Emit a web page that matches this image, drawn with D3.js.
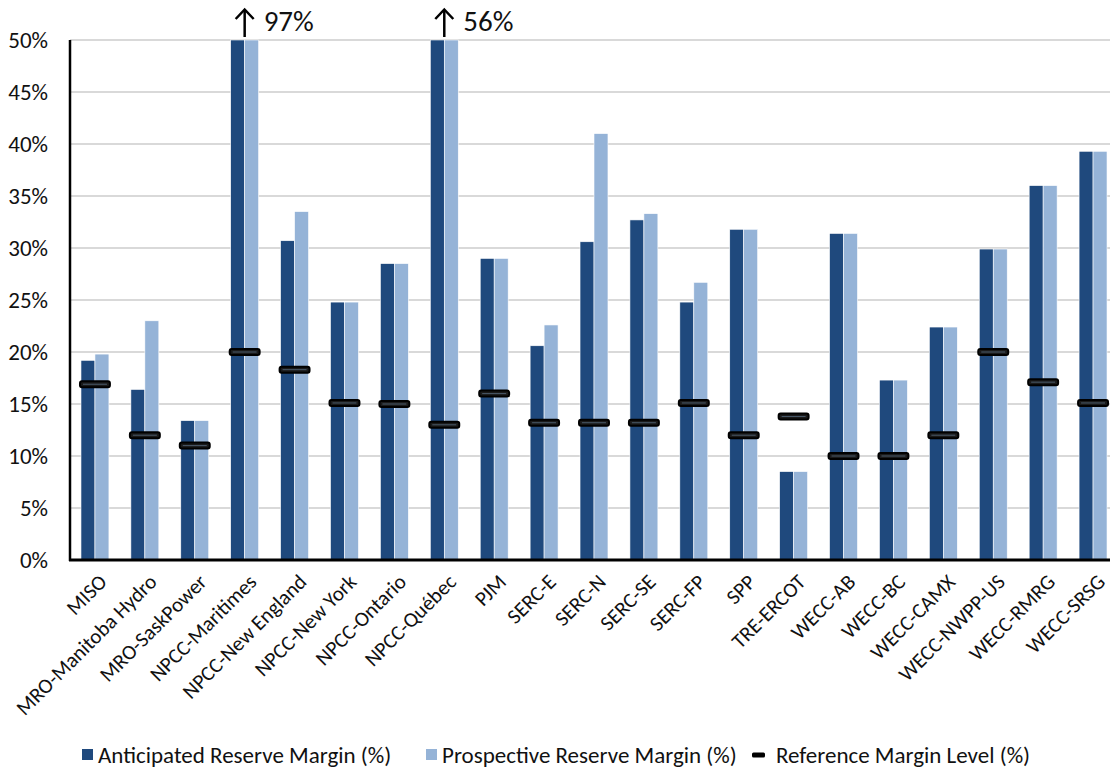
<!DOCTYPE html>
<html>
<head>
<meta charset="utf-8">
<script src="https://cdn.jsdelivr.net/npm/d3@7"></script>
<style>
  body { margin: 0; background: #fff; }
  svg { display: block; font-family: Carlito, Calibri, Lato, sans-serif; }
</style>
</head>
<body>
<div class="container"></div>
<script>
// assessment areas, left to right
const regions = [
    "MISO", "MRO-Manitoba Hydro", "MRO-SaskPower", "NPCC-Maritimes", "NPCC-New England",
    "NPCC-New York", "NPCC-Ontario", "NPCC-Québec", "PJM", "SERC-E", "SERC-N", "SERC-SE",
    "SERC-FP", "SPP", "TRE-ERCOT", "WECC-AB", "WECC-BC", "WECC-CAMX", "WECC-NWPP-US",
    "WECC-RMRG", "WECC-SRSG",
];
const anticipated = [19.2, 16.4, 13.4, 97, 30.7, 24.8, 28.5, 56, 29.0, 20.6, 30.6, 32.7,
    24.8, 31.8, 8.5, 31.4, 17.3, 22.4, 29.9, 36.0, 39.3];
const prospective = [19.8, 23.0, 13.4, 97, 33.5, 24.8, 28.5, 56, 29.0, 22.6, 41.0, 33.3,
    26.7, 31.8, 8.5, 31.4, 17.3, 22.4, 29.9, 36.0, 39.3];
const reference = [16.9, 12.0, 11.0, 20.0, 18.3, 15.1, 15.0, 13.0, 16.0, 13.2, 13.2, 13.2,
    15.1, 12.0, 13.8, 10.0, 10.0, 12.0, 20.0, 17.1, 15.1];
const yTicks = [0, 5, 10, 15, 20, 25, 30, 35, 40, 45, 50];
const seriesNames = ["Anticipated Reserve Margin (%)", "Prospective Reserve Margin (%)", "Reference Margin Level (%)"];
const yMax = 50;

const W = 1110, H = 770;
const margin = { left: 70, right: 1118, top: 40, bottom: 560 };
const darkBlue = "#1f497d", lightBlue = "#95b3d7";

const svg = d3.select(".container").append("svg")
    .attr("width", W).attr("height", H);

const x = d3.scaleBand().domain(regions).range([margin.left, margin.right])
    .paddingInner(0.44).paddingOuter(0.22);
const xs = d3.scaleBand().domain([0, 1]).range([0, x.bandwidth()]);
const y = d3.scaleLinear().domain([0, yMax]).range([margin.bottom, margin.top]);

// gridlines
svg.append("g").selectAll("line").data(yTicks.slice(1)).join("line")
    .attr("x1", margin.left).attr("x2", W)
    .attr("y1", (d) => y(d)).attr("y2", (d) => y(d))
    .attr("stroke", "#d9d9d9").attr("stroke-width", 2);

// y tick labels
svg.append("g").selectAll("text").data(yTicks).join("text")
    .attr("x", 48).attr("y", (d) => y(d))
    .attr("dy", "0.35em").attr("text-anchor", "end")
    .attr("font-size", 23).attr("fill", "#111")
    .text((d) => d + "%");

// bars
const groups = svg.append("g").selectAll("g").data(regions).join("g")
    .attr("transform", (d) => `translate(${x(d)},0)`);

[anticipated, prospective].forEach((vals, k) => {
    groups.append("rect")
        .attr("x", xs(k)).attr("width", xs.bandwidth())
        .attr("y", (d, i) => y(Math.min(vals[i], yMax)))
        .attr("height", (d, i) => y(0) - y(Math.min(vals[i], yMax)))
        .attr("fill", k === 0 ? darkBlue : lightBlue)
        .attr("stroke", "#fff").attr("stroke-width", 0.6);
});

// reference markers
const marks = groups.append("g")
    .attr("transform", (d, i) => `translate(0,${y(reference[i])})`);
marks.append("rect")
    .attr("x", -1).attr("width", x.bandwidth() + 2)
    .attr("y", -3).attr("height", 6).attr("rx", 2)
    .attr("fill", "#1a1a1a").attr("stroke", "#000").attr("stroke-width", 2);
marks.append("line")
    .attr("x1", 2).attr("x2", x.bandwidth() - 2)
    .attr("stroke", "#4a5a6a").attr("stroke-width", 1);

// axes lines
svg.append("line").attr("x1", margin.left).attr("x2", margin.left)
    .attr("y1", margin.top).attr("y2", margin.bottom + 1)
    .attr("stroke", "#000").attr("stroke-width", 2.5);
svg.append("line").attr("x1", margin.left - 1).attr("x2", W)
    .attr("y1", margin.bottom).attr("y2", margin.bottom)
    .attr("stroke", "#000").attr("stroke-width", 3);

// x labels
svg.append("g").selectAll("text").data(regions).join("text")
    .attr("transform", (d) => `translate(${x(d) + x.bandwidth() / 2 + 8},${margin.bottom + 18}) rotate(-45)`)
    .attr("text-anchor", "end").attr("dy", "0.35em")
    .attr("font-size", 21).attr("fill", "#111")
    .text((d) => d);

// off-scale values: arrow + true value
const over = regions.map((r, i) => ({ r, v: anticipated[i] })).filter((d) => d.v > yMax);
const ann = svg.append("g").selectAll("g").data(over).join("g")
    .attr("transform", (d) => `translate(${x(d.r) + x.bandwidth() / 2},0)`);
ann.append("line").attr("x1", 0).attr("x2", 0).attr("y1", 10).attr("y2", 37)
    .attr("stroke", "#000").attr("stroke-width", 2.5);
ann.append("path").attr("d", "M-9,19 L0,9.5 L9,19")
    .attr("fill", "none").attr("stroke", "#000").attr("stroke-width", 2.5);
ann.append("text").attr("x", 19).attr("y", 31)
    .attr("font-size", 29).attr("fill", "#111")
    .text((d) => d.v + "%");

// legend
const legend = svg.append("g").attr("font-size", 23).attr("fill", "#111");
const legendPos = [82, 426, 752];
seriesNames.forEach((name, i) => {
    const g = legend.append("g").attr("transform", `translate(${legendPos[i]},755)`);
    if (i < 2) {
        g.append("rect").attr("x", 0).attr("y", -6).attr("width", 11).attr("height", 11)
            .attr("fill", i === 0 ? darkBlue : lightBlue);
        g.append("text").attr("x", 16).attr("dy", "0.35em").text(name);
    } else {
        g.append("rect").attr("x", 0).attr("y", -2.5).attr("width", 13).attr("height", 5)
            .attr("rx", 1.5).attr("fill", "#000");
        g.append("text").attr("x", 24).attr("dy", "0.35em").text(name);
    }
});
</script>
</body>
</html>
